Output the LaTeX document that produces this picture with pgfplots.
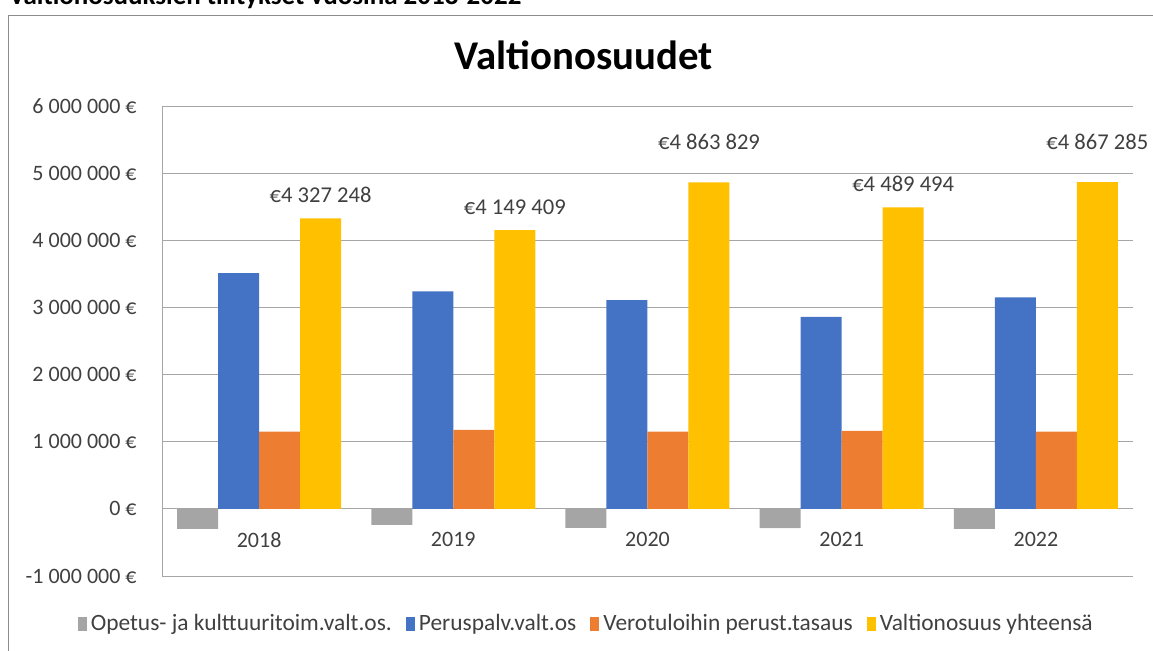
\documentclass[border=0pt]{standalone}
\usepackage{pgfplots}
\pgfplotsset{compat=1.18}
\usepackage{pgfplotstable}
\usepackage{fontspec}
\setmainfont{Carlito}

\definecolor{cgray}{HTML}{A5A5A5}
\definecolor{cblue}{HTML}{4472C4}
\definecolor{corange}{HTML}{ED7D31}
\definecolor{cyellow}{HTML}{FFC000}
\definecolor{gridc}{HTML}{A6A6A6}
\definecolor{txt}{HTML}{404040}

% valtionosuus yhteensa
\pgfplotstableread{
x y lbl
0 4327248 {€4 327 248}
1 4149409 {€4 149 409}
2 4863829 {€4 863 829}
3 4489494 {€4 489 494}
4 4867285 {€4 867 285}
}\yhteensa

\pgfplotsset{sq/.style={legend image code/.code={\fill[##1,draw=none] (0pt,-3.5pt) rectangle (4.5pt,3.5pt);}}}

\begin{document}
\begin{tikzpicture}
\useasboundingbox (0,0) rectangle (576.5pt,325.5pt);
\clip (0,0) rectangle (576.5pt,325.5pt);
\node[anchor=base west, font=\bfseries\fontsize{13.5}{15}\selectfont] at (1pt,323pt) {Valtionosuuksien tilitykset vuosina 2018-2022};
\draw[black!45] (4pt,318pt) rectangle (600pt,-20pt);
\node[font=\bfseries\fontsize{20.4}{24}\selectfont] at (291.75pt,298pt) {Valtionosuudet};

\begin{axis}[
  at={(81pt,37.5pt)}, anchor=south west,
  scale only axis, width=485.5pt, height=235pt,
  xmin=-0.5, xmax=4.5, ymin=-1000000, ymax=6000000,
  ybar=0pt, bar width=20.5pt,
  axis x line=middle, axis y line=left,
  hide obscured x ticks=false, hide obscured y ticks=false,
  axis line style={draw=gridc,-},
  scaled y ticks=false,
  xtick={0,1,2,3,4}, xticklabels={2018,2019,2020,2021,2022},
  ytick={-1000000,0,1000000,2000000,3000000,4000000,5000000,6000000},
  yticklabels={{-1 000 000 €},{0 €},{1 000 000 €},{2 000 000 €},{3 000 000 €},{4 000 000 €},{5 000 000 €},{6 000 000 €}},
  major tick length=0pt,
  ymajorgrids, major grid style={draw=gridc},
  ticklabel style={font=\fontsize{11}{13}\selectfont, text=txt},
  xticklabel style={anchor=center, yshift=-15.5pt},
  yticklabel style={anchor=east, inner sep=0pt, xshift=-12.5pt},
  legend columns=-1,
  legend style={at={(0.438,-0.102)}, anchor=center, draw=none, fill=none,
    font=\fontsize{11.7}{13}\selectfont, text=txt,
    /tikz/every even column/.append style={column sep=5pt}},
]
\addplot[fill=cgray, draw=none, sq] coordinates {(0,-300000) (1,-240000) (2,-285000) (3,-288000) (4,-300000)};
\addplot[fill=cblue, draw=none, sq] coordinates {(0,3510000) (1,3240000) (2,3110000) (3,2860000) (4,3150000)};
\addplot[fill=corange, draw=none, sq] coordinates {(0,1150000) (1,1175000) (2,1150000) (3,1160000) (4,1150000)};
\addplot[fill=cyellow, draw=none, sq,
  nodes near coords, point meta=explicit symbolic,
  every node near coord/.append style={anchor=center, yshift=11.75pt,
    font=\fontsize{11.3}{13}\selectfont, text=txt},
  coordinate style/.condition={\coordindex==2 || \coordindex==4}{yshift=8.25pt}]
  table[x=x, y=y, meta=lbl] {\yhteensa};
\legend{Opetus- ja kulttuuritoim.valt.os., Peruspalv.valt.os, Verotuloihin perust.tasaus, Valtionosuus yhteensä}
\end{axis}
\end{tikzpicture}
\end{document}
